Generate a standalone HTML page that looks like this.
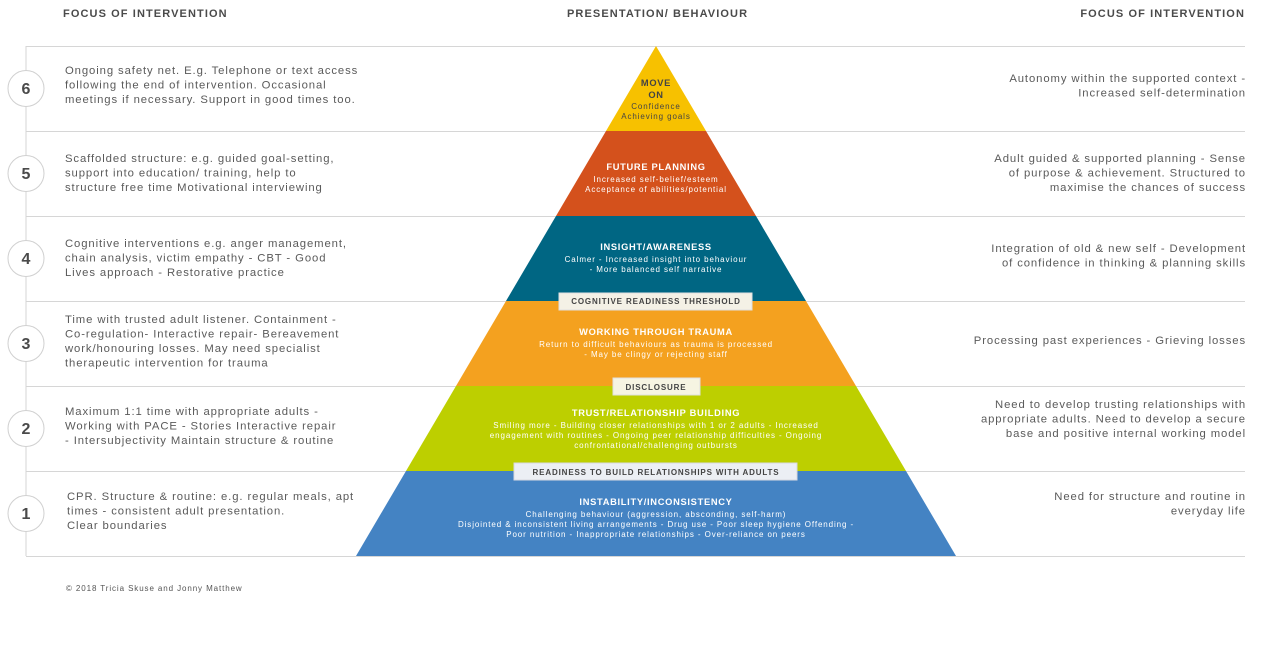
<!DOCTYPE html>
<html><head><meta charset="utf-8"><style>
html,body{margin:0;padding:0;background:#fff;}
svg{display:block;font-family:"Liberation Sans",sans-serif;}
.h{font-size:11px;font-weight:bold;fill:#4a4a4a;letter-spacing:1.1px}
.l{font-size:11.3px;fill:#5a5a5a;letter-spacing:0.9px}
.r{font-size:11.3px;fill:#5a5a5a;text-anchor:end;letter-spacing:0.9px}
.n{font-size:16px;font-weight:bold;fill:#4a4a4a;text-anchor:middle}
.t{font-size:9.3px;font-weight:bold;fill:#fff;text-anchor:middle;letter-spacing:0.7px}
.b{font-size:8px;fill:#fff;text-anchor:middle;letter-spacing:0.9px}
.k{font-size:8px;font-weight:bold;fill:#444;text-anchor:middle;letter-spacing:0.85px}
</style></head><body>
<svg width="1261" height="653" viewBox="0 0 1261 653" xmlns="http://www.w3.org/2000/svg">
<text class="h" x="63" y="17">FOCUS OF INTERVENTION</text>
<text class="h" x="567" y="17">PRESENTATION/ BEHAVIOUR</text>
<text class="h" x="1245" y="17" text-anchor="end">FOCUS OF INTERVENTION</text>
<g stroke="#d6d6d6" stroke-width="1">
<line x1="26" y1="46" x2="26" y2="556"/>
<line x1="26" y1="46.5" x2="1245" y2="46.5"/>
<line x1="26" y1="131.5" x2="1245" y2="131.5"/>
<line x1="26" y1="216.5" x2="1245" y2="216.5"/>
<line x1="26" y1="301.5" x2="1245" y2="301.5"/>
<line x1="26" y1="386.5" x2="1245" y2="386.5"/>
<line x1="26" y1="471.5" x2="1245" y2="471.5"/>
<line x1="26" y1="556.5" x2="1245" y2="556.5"/>
</g>
<polygon points="656,46 706,131 606,131" fill="#f7c100"/>
<polygon points="606,131 706,131 756,216 556,216" fill="#d4511c"/>
<polygon points="556,216 756,216 806,301 506,301" fill="#006683"/>
<polygon points="506,301 806,301 856,386 456,386" fill="#f4a11f"/>
<polygon points="456,386 856,386 906,471 406,471" fill="#bdcf00"/>
<polygon points="406,471 906,471 956,556 356,556" fill="#4483c3"/>
<g fill="#fff" stroke="#d0d0d0">
<circle cx="26" cy="88.5" r="18"/><circle cx="26" cy="173.5" r="18"/><circle cx="26" cy="258.5" r="18"/>
<circle cx="26" cy="343.5" r="18"/><circle cx="26" cy="428.5" r="18"/><circle cx="26" cy="513.5" r="18"/>
</g>
<text class="n" x="26" y="94">6</text><text class="n" x="26" y="179">5</text><text class="n" x="26" y="264">4</text>
<text class="n" x="26" y="349">3</text><text class="n" x="26" y="434">2</text><text class="n" x="26" y="519">1</text>
<text class="l" x="65" y="74">Ongoing safety net. E.g. Telephone or text access</text>
<text class="l" x="65" y="88.5">following the end of intervention. Occasional</text>
<text class="l" x="65" y="103">meetings if necessary. Support in good times too.</text>
<text class="l" x="65" y="162">Scaffolded structure: e.g. guided goal-setting,</text>
<text class="l" x="65" y="176.5">support into education/ training, help to</text>
<text class="l" x="65" y="191">structure free time Motivational interviewing</text>
<text class="l" x="65" y="247">Cognitive interventions e.g. anger management,</text>
<text class="l" x="65" y="261.5">chain analysis, victim empathy - CBT - Good</text>
<text class="l" x="65" y="276">Lives approach - Restorative practice</text>
<text class="l" x="65" y="323">Time with trusted adult listener. Containment -</text>
<text class="l" x="65" y="337.5">Co-regulation- Interactive repair- Bereavement</text>
<text class="l" x="65" y="352">work/honouring losses. May need specialist</text>
<text class="l" x="65" y="366.5">therapeutic intervention for trauma</text>
<text class="l" x="65" y="415">Maximum 1:1 time with appropriate adults -</text>
<text class="l" x="65" y="429.5">Working with PACE - Stories Interactive repair</text>
<text class="l" x="65" y="444">- Intersubjectivity Maintain structure &amp; routine</text>
<text class="l" x="67" y="500">CPR. Structure &amp; routine: e.g. regular meals, apt</text>
<text class="l" x="67" y="514.5">times - consistent adult presentation.</text>
<text class="l" x="67" y="529">Clear boundaries</text>
<text class="r" x="1246" y="82">Autonomy within the supported context -</text>
<text class="r" x="1246" y="96.5">Increased self-determination</text>
<text class="r" x="1246" y="162">Adult guided &amp; supported planning - Sense</text>
<text class="r" x="1246" y="176.5">of purpose &amp; achievement. Structured to</text>
<text class="r" x="1246" y="191">maximise the chances of success</text>
<text class="r" x="1246" y="252">Integration of old &amp; new self - Development</text>
<text class="r" x="1246" y="266.5">of confidence in thinking &amp; planning skills</text>
<text class="r" x="1246" y="344">Processing past experiences - Grieving losses</text>
<text class="r" x="1246" y="408">Need to develop trusting relationships with</text>
<text class="r" x="1246" y="422.5">appropriate adults. Need to develop a secure</text>
<text class="r" x="1246" y="437">base and positive internal working model</text>
<text class="r" x="1246" y="500">Need for structure and routine in</text>
<text class="r" x="1246" y="514.5">everyday life</text>
<text class="t" x="656" y="86" style="fill:#444">MOVE</text>
<text class="t" x="656" y="98" style="fill:#444">ON</text>
<text class="b" x="656" y="109" style="fill:#444">Confidence</text>
<text class="b" x="656" y="119" style="fill:#444">Achieving goals</text>
<text class="t" x="656" y="170">FUTURE PLANNING</text>
<text class="b" x="656" y="182">Increased self-belief/esteem</text>
<text class="b" x="656" y="192">Acceptance of abilities/potential</text>
<text class="t" x="656" y="250">INSIGHT/AWARENESS</text>
<text class="b" x="656" y="262">Calmer - Increased insight into behaviour</text>
<text class="b" x="656" y="272">- More balanced self narrative</text>
<text class="t" x="656" y="335">WORKING THROUGH TRAUMA</text>
<text class="b" x="656" y="347">Return to difficult behaviours as trauma is processed</text>
<text class="b" x="656" y="357">- May be clingy or rejecting staff</text>
<text class="t" x="656" y="416">TRUST/RELATIONSHIP BUILDING</text>
<text class="b" x="656" y="428">Smiling more - Building closer relationships with 1 or 2 adults - Increased</text>
<text class="b" x="656" y="438">engagement with routines - Ongoing peer relationship difficulties - Ongoing</text>
<text class="b" x="656" y="448">confrontational/challenging outbursts</text>
<text class="t" x="656" y="505">INSTABILITY/INCONSISTENCY</text>
<text class="b" x="656" y="517">Challenging behaviour (aggression, absconding, self-harm)</text>
<text class="b" x="656" y="527">Disjointed &amp; inconsistent living arrangements - Drug use - Poor sleep hygiene Offending -</text>
<text class="b" x="656" y="537">Poor nutrition - Inappropriate relationships - Over-reliance on peers</text>
<rect x="559" y="293" width="193" height="17" fill="#f4f1e6" stroke="#e0e0e0"/>
<text class="k" x="656" y="304">COGNITIVE READINESS THRESHOLD</text>
<rect x="613" y="378" width="87" height="17" fill="#f6f4e2" stroke="#e0e0e0"/>
<text class="k" x="656" y="390">DISCLOSURE</text>
<rect x="514" y="463" width="283" height="17" fill="#eceff4" stroke="#d8d8e0"/>
<text class="k" x="656" y="475">READINESS TO BUILD RELATIONSHIPS WITH ADULTS</text>
<text x="66" y="591" style="font-size:8px;fill:#555;letter-spacing:0.9px">© 2018 Tricia Skuse and Jonny Matthew</text>
</svg>
</body></html>
